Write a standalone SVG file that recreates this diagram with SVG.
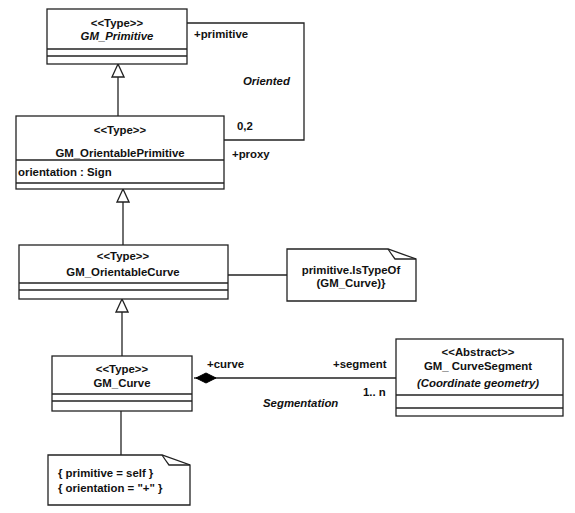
<svg xmlns="http://www.w3.org/2000/svg" width="575" height="513" viewBox="0 0 575 513">
<style>
text{font-family:"Liberation Sans",Arial,sans-serif;font-size:11.4px;font-weight:bold;fill:#111}
.c{text-anchor:middle}
.i{font-style:italic}
.box{fill:#fff;stroke:#222;stroke-width:1.3}
.ln{stroke:#222;stroke-width:1.3;fill:none}
</style>
<defs>
<marker id="gen" markerUnits="userSpaceOnUse" markerWidth="14" markerHeight="14" viewBox="0 0 14 14" refX="13.5" refY="7" orient="auto">
<path d="M0.5,1 L13.5,7 L0.5,13 Z" fill="#fff" stroke="#222" stroke-width="1.3"/>
</marker>
<marker id="dia" markerUnits="userSpaceOnUse" markerWidth="24" markerHeight="12" viewBox="0 0 24 12" refX="0" refY="6" orient="auto">
<path d="M2,6 L12,1 L22,6 L12,11 Z" fill="#000" stroke="#000" stroke-width="1"/>
</marker>
</defs>
<rect width="575" height="513" fill="#fff"/>
<g id="connectors">
<line class="ln" x1="118" y1="116" x2="118" y2="64" marker-end="url(#gen)"/>
<line class="ln" x1="123" y1="245" x2="123" y2="189" marker-end="url(#gen)"/>
<line class="ln" x1="122" y1="356" x2="122" y2="299" marker-end="url(#gen)"/>
<polyline class="ln" points="187,23 304,23 304,140 224,140"/>
<line class="ln" x1="228" y1="275" x2="287" y2="275"/>
<line class="ln" x1="194" y1="378" x2="396" y2="378" marker-start="url(#dia)"/>
<line class="ln" x1="121" y1="411" x2="121" y2="455"/>
<text x="194" y="38">+primitive</text>
<text class="i" x="243" y="85">Oriented</text>
<text x="237" y="130">0,2</text>
<text x="232" y="158">+proxy</text>
<text x="207" y="368">+curve</text>
<text x="333" y="368">+segment</text>
<text x="363" y="396">1.. n</text>
<text class="i" x="263" y="407">Segmentation</text>
</g>
<g id="GM_Primitive">
<rect class="box" x="47" y="9" width="140" height="55"/>
<line class="ln" x1="47" y1="49" x2="187" y2="49"/>
<line class="ln" x1="47" y1="56" x2="187" y2="56"/>
<text class="c" x="117" y="27">&lt;&lt;Type&gt;&gt;</text>
<text class="c i" x="117" y="40">GM_Primitive</text>
</g>
<g id="GM_OrientablePrimitive">
<rect class="box" x="16" y="116" width="208" height="73"/>
<line class="ln" x1="16" y1="160" x2="224" y2="160"/>
<line class="ln" x1="16" y1="183" x2="224" y2="183"/>
<text class="c" x="120" y="134">&lt;&lt;Type&gt;&gt;</text>
<text class="c" x="120" y="157">GM_OrientablePrimitive</text>
<text x="18" y="176">orientation : Sign</text>
</g>
<g id="GM_OrientableCurve">
<rect class="box" x="19" y="245" width="209" height="54"/>
<line class="ln" x1="19" y1="283" x2="228" y2="283"/>
<line class="ln" x1="19" y1="290" x2="228" y2="290"/>
<text class="c" x="123" y="260">&lt;&lt;Type&gt;&gt;</text>
<text class="c" x="123" y="276">GM_OrientableCurve</text>
</g>
<g id="note1">
<path class="box" d="M287,249 H388 L416,259 V301 H287 Z"/>
<path class="ln" d="M388,249 Q392,255 395,259 L416,259"/>
<text class="c" x="351" y="274">primitive.IsTypeOf</text>
<text class="c" x="351" y="287">(GM_Curve)}</text>
</g>
<g id="GM_Curve">
<rect class="box" x="52" y="356" width="140" height="55"/>
<line class="ln" x1="52" y1="394" x2="192" y2="394"/>
<line class="ln" x1="52" y1="401" x2="192" y2="401"/>
<text class="c" x="122" y="373">&lt;&lt;Type&gt;&gt;</text>
<text class="c" x="122" y="387">GM_Curve</text>
</g>
<g id="GM_CurveSegment">
<rect class="box" x="396" y="339" width="167" height="77"/>
<line class="ln" x1="396" y1="395" x2="563" y2="395"/>
<line class="ln" x1="396" y1="408" x2="563" y2="408"/>
<text class="c" x="478" y="356">&lt;&lt;Abstract&gt;&gt;</text>
<text class="c" x="478" y="370">GM_ CurveSegment</text>
<text class="c i" x="478" y="387">(Coordinate geometry)</text>
</g>
<g id="note2">
<path class="box" d="M48,455 H162 L190,465 V505 H48 Z"/>
<path class="ln" d="M162,455 Q166,461 169,465 L190,465"/>
<text x="58" y="477">{ primitive = self }</text>
<text x="58" y="492">{ orientation = "+" }</text>
</g>
</svg>
